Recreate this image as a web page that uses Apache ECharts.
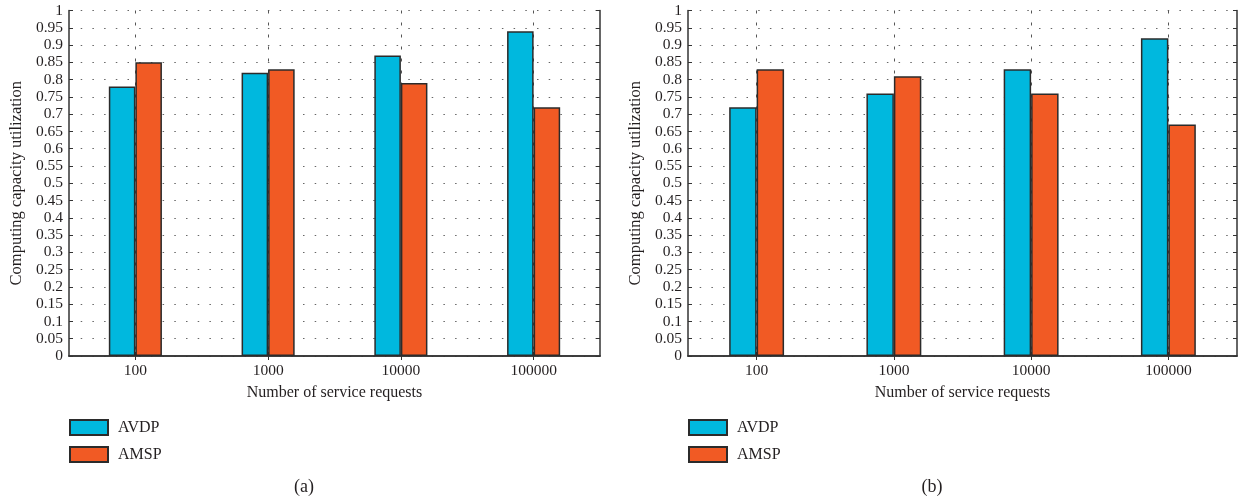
<!DOCTYPE html>
<html>
<head>
<meta charset="utf-8">
<script src="https://cdn.jsdelivr.net/npm/echarts@6/dist/echarts.min.js"></script>
<style>
html,body{margin:0;padding:0;background:#fff;}
#c{width:1238px;height:502px;}
</style>
</head>
<body>
<div id="c"></div>
<script>
const categories = ['100', '1000', '10000', '100000'];
const avdpA = [0.78, 0.82, 0.87, 0.94];
const amspA = [0.85, 0.83, 0.79, 0.72];
const avdpB = [0.72, 0.76, 0.83, 0.92];
const amspB = [0.83, 0.81, 0.76, 0.67];
const seriesNames = ['AVDP', 'AMSP'];
const captions = ['(a)', '(b)'];
const yName = 'Computing capacity utilization';
const xName = 'Number of service requests';

const FONT = 'Liberation Serif';
const TXT = '#231f20';
const FRAME = '#333';
const BLUE = '#00b8de';
const ORANGE = '#f15a24';

const chart = echarts.init(document.getElementById('c'));

const grids = [
  {left: 69, width: 531, top: 10.5, height: 345.5},
  {left: 688, width: 549, top: 10.5, height: 345.5}
];

const xAxes = [], yAxes = [], series = [], legends = [];
grids.forEach((g, i) => {
  xAxes.push({
    type: 'category', gridIndex: i, data: categories, position: 'bottom',
    boundaryGap: true,
    axisLine: {show: true, lineStyle: {color: FRAME, width: 1.5}},
    axisTick: {show: true, inside: true, length: 4, alignWithLabel: true, lineStyle: {color: FRAME}},
    axisLabel: {color: TXT, fontFamily: FONT, fontSize: 15.5, margin: 7},
    splitLine: {show: true, alignWithLabel: true, lineStyle: {color: '#555', type: [3, 9], width: 1}},
    name: xName, nameLocation: 'middle', nameGap: 29,
    nameTextStyle: {color: TXT, fontFamily: FONT, fontSize: 16}
  });
  xAxes.push({
    type: 'category', gridIndex: i, data: categories, position: 'top',
    boundaryGap: true,
    axisLine: {show: true, lineStyle: {color: FRAME, width: 1.5}},
    axisTick: {show: true, inside: true, length: 4, alignWithLabel: true, lineStyle: {color: FRAME}},
    axisLabel: {show: false},
    splitLine: {show: false}
  });
  yAxes.push({
    type: 'value', gridIndex: i, min: 0, max: 1, interval: 0.05, position: 'left',
    axisLine: {show: true, lineStyle: {color: FRAME, width: 1.5}},
    axisTick: {show: true, inside: true, length: 4, lineStyle: {color: FRAME}},
    axisLabel: {color: TXT, fontFamily: FONT, fontSize: 15.5, margin: 6,
      formatter: v => String(+v.toFixed(2))},
    splitLine: {show: true, lineStyle: {color: '#666', type: [1.5, 10.2], width: 1.2}},
    name: yName, nameLocation: 'middle', nameGap: 44, nameRotate: 90,
    nameTextStyle: {color: TXT, fontFamily: FONT, fontSize: 16.5}
  });
  yAxes.push({
    type: 'value', gridIndex: i, min: 0, max: 1, interval: 0.05, position: 'right',
    axisLine: {show: true, lineStyle: {color: FRAME, width: 1.5}},
    axisTick: {show: true, inside: true, length: 4, lineStyle: {color: FRAME}},
    axisLabel: {show: false},
    splitLine: {show: false}
  });
  const data = i === 0 ? [avdpA, amspA] : [avdpB, amspB];
  [BLUE, ORANGE].forEach((col, k) => {
    series.push({
      name: seriesNames[k], type: 'bar', xAxisIndex: i * 2, yAxisIndex: i * 2,
      data: data[k], barWidth: '20%', barGap: '0%',
      itemStyle: {color: col, borderColor: '#2b2b2b', borderWidth: 1.5},
      emphasis: {disabled: true}
    });
  });
  legends.push({
    orient: 'vertical', left: g.left, top: 419, padding: 0,
    itemWidth: 38, itemHeight: 15, itemGap: 10,
    data: seriesNames, icon: 'rect', selectedMode: false,
    textStyle: {color: TXT, fontFamily: FONT, fontSize: 16, padding: [0, 0, 0, 5]}
  });
});

chart.setOption({
  animation: false,
  grid: grids.map(g => Object.assign({show: false, containLabel: false}, g)),
  xAxis: xAxes,
  yAxis: yAxes,
  legend: legends,
  series: series,
  graphic: [
    {type: 'text', x: 304, y: 487, style: {text: captions[0], fontFamily: FONT, fontSize: 18, fill: TXT, textAlign: 'center', textVerticalAlign: 'middle'}},
    {type: 'text', x: 932, y: 487, style: {text: captions[1], fontFamily: FONT, fontSize: 18, fill: TXT, textAlign: 'center', textVerticalAlign: 'middle'}}
  ]
});
</script>
</body>
</html>
